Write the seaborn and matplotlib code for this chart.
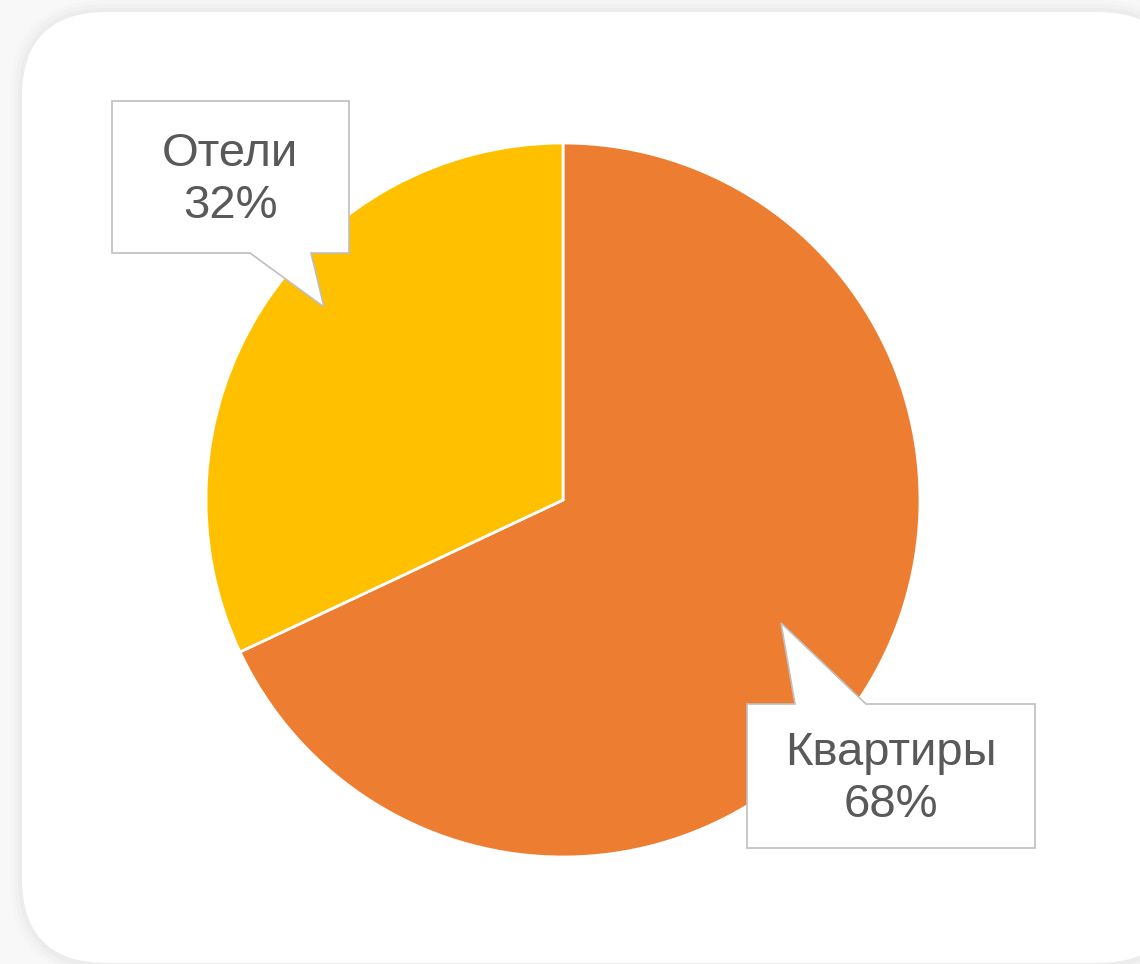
import matplotlib
matplotlib.use("Agg")
import matplotlib.pyplot as plt
from matplotlib.patches import FancyBboxPatch, Polygon
import seaborn as sns

# --- данные ---
categories = ["Квартиры", "Отели"]
shares = [68, 32]
colors = ["#ED7D31", "#FFC000"]

sns.set_theme(style="white")
plt.rcParams['font.family'] = ['Liberation Sans', 'DejaVu Sans']

W, H = 1140, 964
fig = plt.figure(figsize=(W / 100, H / 100), dpi=100)
fig.patch.set_facecolor("#f8f8f8")


def px(x, y):
    # пиксели (сверху-слева) -> доли фигуры
    return (x / W, 1 - y / H)


# карточка с мягкой тенью
RAD = 85
for i, a in enumerate([0.010, 0.014, 0.018]):
    grow = (3 - i) * 4
    sh = FancyBboxPatch(px(22 - grow, 964 + grow), (1160 + 2 * grow) / W, (952 + 2 * grow) / H,
                        boxstyle=f"round,pad=0,rounding_size={(RAD + grow) / W}",
                        transform=fig.transFigure, facecolor="black", edgecolor="none",
                        alpha=a, mutation_aspect=W / H, zorder=0)
    fig.add_artist(sh)
card = FancyBboxPatch(px(22, 963), 1160 / W, 951 / H,
                      boxstyle=f"round,pad=0,rounding_size={RAD / W}",
                      transform=fig.transFigure, facecolor="white", edgecolor="none",
                      mutation_aspect=W / H, zorder=0.5)
fig.add_artist(card)

# пирог: центр (563, 500), радиус 357 px
cx, cy, r = 563, 500, 357
ax = fig.add_axes([(cx - r) / W, (H - cy - r) / H, 2 * r / W, 2 * r / H])
ax.set_zorder(2)
ax.patch.set_visible(False)
ax.pie(shares, colors=colors, startangle=90, counterclock=False, radius=1,
       wedgeprops=dict(edgecolor="white", linewidth=2))
ax.set_xlim(-1, 1)
ax.set_ylim(-1, 1)
ax.set_aspect("equal")
ax.axis("off")

# выноски
callouts = {
    "Отели": dict(poly=[(112, 101), (349, 101), (349, 253), (311, 253), (324, 307),
                        (250, 253), (112, 253)], text=(230, 180)),
    "Квартиры": dict(poly=[(747, 704), (795, 704), (781, 623), (866, 704), (1035, 704),
                           (1035, 848), (747, 848)], text=(891, 779)),
}
for name, val in zip(categories, shares):
    c = callouts[name]
    fig.add_artist(Polygon([px(x, y) for x, y in c["poly"]], closed=True,
                           transform=fig.transFigure, facecolor="white",
                           edgecolor="#bfbfbf", linewidth=1.2, zorder=5))
    tx, ty = px(*c["text"])
    fig.text(tx, ty, f"{name}\n{val}%", ha="center", va="center", fontsize=34,
             color="#595959", linespacing=1.22, zorder=6)

plt.savefig("out.png", dpi=100, facecolor=fig.get_facecolor())
plt.close()
